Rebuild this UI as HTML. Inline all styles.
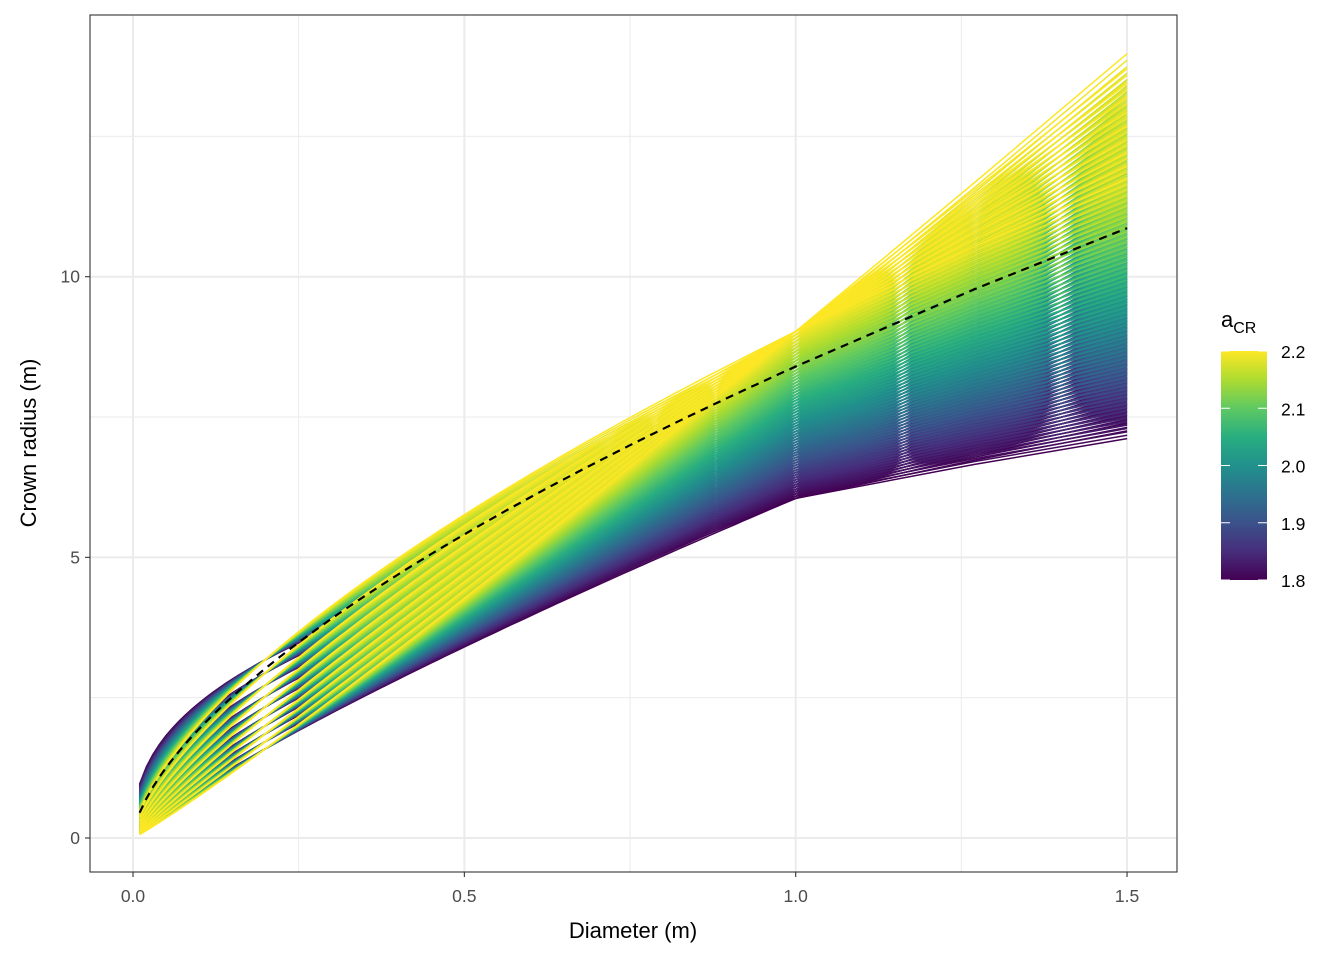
<!DOCTYPE html>
<html><head><meta charset="utf-8"><style>
body{margin:0;background:#fff;}
svg text{font-family:"Liberation Sans",sans-serif;}
</style></head><body>
<svg id="chart" width="1344" height="960" xmlns="http://www.w3.org/2000/svg">
<defs>
<linearGradient id="vir" x1="0" y1="1" x2="0" y2="0">
<stop offset="0" stop-color="#440154"/><stop offset="0.125" stop-color="#472d7b"/><stop offset="0.25" stop-color="#3b528b"/><stop offset="0.375" stop-color="#2c728e"/><stop offset="0.5" stop-color="#21918c"/><stop offset="0.625" stop-color="#28ae80"/><stop offset="0.75" stop-color="#5ec962"/><stop offset="0.875" stop-color="#addc30"/><stop offset="1" stop-color="#fde725"/>
</linearGradient>
<clipPath id="pc"><rect x="90" y="15" width="1087" height="857"/></clipPath>
</defs>
<rect x="90" y="15" width="1087" height="857" fill="#fff"/>
<g id="grid"></g>
<g id="lines" clip-path="url(#pc)"></g>
<rect x="90" y="15" width="1087" height="857" fill="none" stroke="#333" stroke-width="1.1"/>
<g id="axes"></g>
<text x="633" y="938" font-size="22" text-anchor="middle" fill="#000">Diameter (m)</text>
<text transform="translate(36,443) rotate(-90)" font-size="22" text-anchor="middle" fill="#000">Crown radius (m)</text>
<g>
<text x="1221" y="327" font-size="22" fill="#000">a<tspan font-size="16" dy="6">CR</tspan></text>
<rect x="1221" y="351" width="46" height="229" fill="url(#vir)"/>
<g id="legticks"></g>
</g>
</svg>
<script>
const sampleD = [];
for (let i = 1; i <= 100; i++) sampleD.push(i / 100);
sampleD.push(1.27, 1.5);
const groupOffsets = [0,0.048,0.096,0.143,0.191,0.239,0.287,0.334,0.382,0.43];
const baseExp = 0.4;
const expSlope = 0.62;
const aValues = [];
for (let i = 0; i <= 60; i++) aValues.push(1.8 + 0.4 * i / 60);
const meanCoef = 8.4, meanExp = 0.635;
const xTicks = [0, 0.5, 1.0, 1.5];
const xTickLabels = ["0.0", "0.5", "1.0", "1.5"];
const xMinor = [0.25, 0.75, 1.25];
const yTicks = [0, 5, 10];
const yMinor = [2.5, 7.5, 12.5];
const legendTicks = [1.8, 1.9, 2.0, 2.1, 2.2];

const X = d => 133 + d * 662.7;
const Y = v => 838 - v * 56.13;
const L = a => 580 - (a - 1.8) / 0.4 * 229;
const NS = "http://www.w3.org/2000/svg";
function mk(tag, attrs, parent){const e=document.createElementNS(NS,tag);for(const k in attrs)e.setAttribute(k,attrs[k]);parent.appendChild(e);return e;}
const vir=[[68,1,84],[71,45,123],[59,82,139],[44,114,142],[33,145,140],[40,174,128],[94,201,98],[173,220,48],[253,231,37]];
function col(t){const p=t*8,i=Math.min(7,Math.floor(p)),f=p-i;const c=vir[i].map((v,k)=>Math.round(v+(vir[i+1][k]-v)*f));return `rgb(${c})`;}

const grid=document.getElementById('grid');
xMinor.forEach(d=>{const l=mk('line',{x1:X(d),x2:X(d),y1:15,y2:872,stroke:'#ebebeb','stroke-width':1},grid);});
yMinor.forEach(v=>{const l=mk('line',{x1:90,x2:1177,y1:Y(v),y2:Y(v),stroke:'#ebebeb','stroke-width':1},grid);});
xTicks.forEach(d=>{const l=mk('line',{x1:X(d),x2:X(d),y1:15,y2:872,stroke:'#ebebeb','stroke-width':2},grid);});
yTicks.forEach(v=>{const l=mk('line',{x1:90,x2:1177,y1:Y(v),y2:Y(v),stroke:'#ebebeb','stroke-width':2},grid);});

const lines=document.getElementById('lines');
aValues.forEach(a=>{
  groupOffsets.forEach(g=>{
    const k=Math.exp(a);
    const b=baseExp+expSlope*(a-1.8)+g;
    const pts=sampleD.map(d=>X(d).toFixed(1)+','+Y(k*Math.pow(d,b)).toFixed(1)).join(' ');
    const p=mk('polyline',{points:pts,fill:'none',stroke:col((a-1.8)/0.4),'stroke-width':1.5,'stroke-linejoin':'round'},lines);
    
    
  });
});
const mpts=sampleD.map(d=>X(d).toFixed(1)+','+Y(meanCoef*Math.pow(d,meanExp)).toFixed(1)).join(' ');
const mean=mk('polyline',{points:mpts,fill:'none',stroke:'#000','stroke-width':2.2,'stroke-dasharray':'8,6'},lines);



const axes=document.getElementById('axes');
xTicks.forEach((d,i)=>{
  mk('line',{x1:X(d),x2:X(d),y1:872,y2:877,stroke:'#333','stroke-width':1.1},axes);
  const t=mk('text',{x:X(d),y:902,'font-size':17.5,'text-anchor':'middle',fill:'#4d4d4d'},axes);t.textContent=xTickLabels[i];
  
  
});
yTicks.forEach(v=>{
  mk('line',{x1:85,x2:90,y1:Y(v),y2:Y(v),stroke:'#333','stroke-width':1.1},axes);
  const t=mk('text',{x:80,y:Y(v)+6,'font-size':17.5,'text-anchor':'end',fill:'#4d4d4d'},axes);t.textContent=String(v);
  
  
});
const lt=document.getElementById('legticks');
legendTicks.forEach(a=>{
  const y=L(a);
  mk('line',{x1:1221,x2:1230,y1:y,y2:y,stroke:'#fff','stroke-width':1},lt);
  mk('line',{x1:1258,x2:1267,y1:y,y2:y,stroke:'#fff','stroke-width':1},lt);
  const t=mk('text',{x:1281,y:y+7,'font-size':17.5,fill:'#000'},lt);t.textContent=a.toFixed(1);
  
  
});
</script>
</body></html>
